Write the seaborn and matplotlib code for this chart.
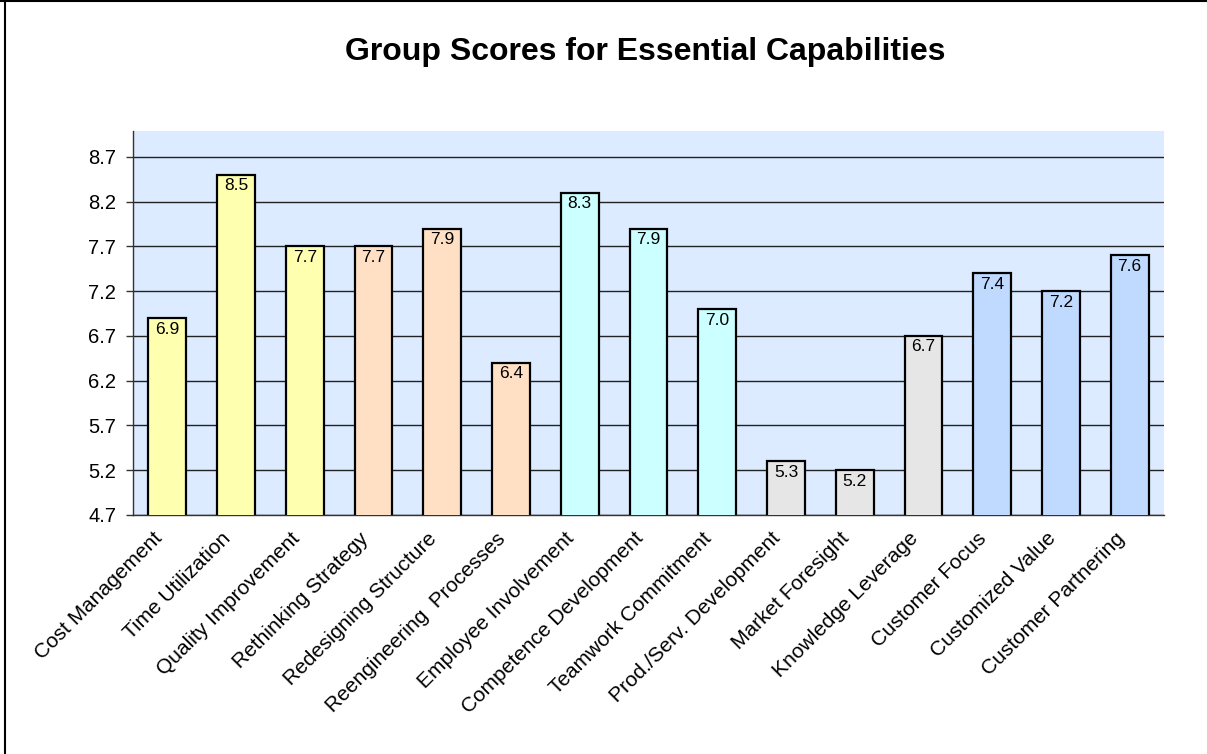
import matplotlib
matplotlib.use("Agg")
import matplotlib.pyplot as plt
from matplotlib.lines import Line2D
from matplotlib.transforms import ScaledTranslation
import seaborn as sns
import pandas as pd
import numpy as np

capabilities = [
    "Cost Management", "Time Utilization", "Quality Improvement",
    "Rethinking Strategy", "Redesigning Structure", "Reengineering  Processes",
    "Employee Involvement", "Competence Development", "Teamwork Commitment",
    "Prod./Serv. Development", "Market Foresight", "Knowledge Leverage",
    "Customer Focus", "Customized Value", "Customer Partnering",
]
scores = [6.9, 8.5, 7.7, 7.7, 7.9, 6.4, 8.3, 7.9, 7.0, 5.3, 5.2, 6.7, 7.4, 7.2, 7.6]
groups = ["Cost", "Cost", "Cost",
          "Process", "Process", "Process",
          "People", "People", "People",
          "Innovation", "Innovation", "Innovation",
          "Customer", "Customer", "Customer"]
group_colors = {
    "Cost": "#FFFFB0",
    "Process": "#FFE0C4",
    "People": "#CCFFFF",
    "Innovation": "#E6E6E6",
    "Customer": "#C0DAFF",
}
y_ticks = [4.7, 5.2, 5.7, 6.2, 6.7, 7.2, 7.7, 8.2, 8.7]

df = pd.DataFrame({"capability": capabilities, "score": scores, "group": groups})

sns.set_theme(style="white")
plt.rcParams["font.family"] = ["Liberation Sans", "DejaVu Sans"]
plt.rcParams["text.color"] = "black"

fig = plt.figure(figsize=(12.07, 7.54), dpi=100)
ax = fig.add_axes([0.1102, 0.3170, 0.8542, 0.5093])

sns.barplot(data=df, x="capability", y="score", hue="group", palette=group_colors,
            dodge=False, width=0.55, saturation=1, edgecolor="black", linewidth=1.6,
            legend=False, ax=ax, zorder=3)

ax.set_facecolor("#DCEBFF")
ax.set_ylim(4.7, 8.99)
ax.set_xlim(-0.5, len(capabilities) - 0.5)
ax.set_yticks(y_ticks)
ax.set_yticklabels([f"{v:.1f}" for v in y_ticks], fontsize=14.5, color="black")
ax.yaxis.grid(True, color="#222222", linewidth=1.0, zorder=1)
ax.set_axisbelow(True)

ax.set_xticks(range(len(capabilities)))
ax.set_xticklabels(capabilities, rotation=45, ha="right", va="top",
                   rotation_mode="anchor", fontsize=15, color="black")
ax.tick_params(axis="x", which="major", length=0, pad=10)
shift = ScaledTranslation(-0.15, 0, fig.dpi_scale_trans)
for lbl in ax.get_xticklabels():
    lbl.set_transform(lbl.get_transform() + shift)
ax.set_xticks(np.arange(-0.5, len(capabilities)), minor=True)
ax.tick_params(axis="x", which="minor", length=5, width=1, color="#333333", direction="out")
ax.tick_params(axis="y", which="major", length=5, width=1, color="#333333",
               direction="out", left=True, pad=7)
ax.set_xlabel("")
ax.set_ylabel("")

for side in ("top", "right"):
    ax.spines[side].set_visible(False)
for side in ("left", "bottom"):
    ax.spines[side].set_color("#333333")
    ax.spines[side].set_linewidth(1.0)

for i, v in enumerate(scores):
    ax.annotate(f"{v:.1f}", xy=(i, v), xytext=(0, -2.5), textcoords="offset points",
                ha="center", va="top", fontsize=12.5, color="black", zorder=5)

fig.text(0.535, 0.931, "Group Scores for Essential Capabilities", ha="center",
         va="center", fontsize=23, fontweight="bold", color="black")

# outer frame on the left and top edges
fig.add_artist(Line2D([0.0045, 0.0045], [0, 1], transform=fig.transFigure,
                      color="black", linewidth=1.5))
fig.add_artist(Line2D([0, 1], [0.9985, 0.9985], transform=fig.transFigure,
                      color="black", linewidth=1.5))

fig.savefig("out.png", dpi=100, facecolor="white")
